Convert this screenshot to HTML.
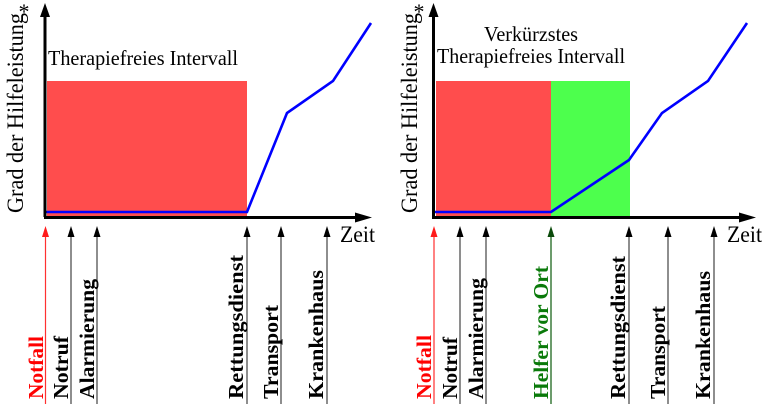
<!DOCTYPE html>
<html><head><meta charset="utf-8"><style>
html,body{margin:0;padding:0;background:#fff;}
svg{display:block;}
text{font-family:"Liberation Serif",serif;}
.t{font-size:21px;fill:#000;}
.y{font-size:23px;fill:#000;}
.b{font-size:21px;font-weight:bold;fill:#000;}
</style></head><body>
<svg width="767" height="408" viewBox="0 0 767 408" xmlns="http://www.w3.org/2000/svg">
<!-- LEFT PANEL -->
<rect x="47" y="81" width="200" height="136" fill="#ff4d4d"/>
<polyline points="46,212 247,212 287,113 333,81 371,23" fill="none" stroke="#0000ff" stroke-width="2.6"/>
<line x1="45" y1="217" x2="45" y2="14" stroke="#000" stroke-width="3"/>
<polygon points="40,17 45,3 50,17" fill="#000"/>
<line x1="44" y1="217.5" x2="358" y2="217.5" stroke="#000" stroke-width="3"/>
<polygon points="355,212.5 372,217.5 355,222.5" fill="#000"/>
<text class="t" x="48" y="65" textLength="190" lengthAdjust="spacingAndGlyphs">Therapiefreies Intervall</text>
<text class="y" transform="translate(23,213) rotate(-90)" x="0" y="0" textLength="200" lengthAdjust="spacingAndGlyphs">Grad der Hilfeleistung</text>
<text x="24" y="19" font-size="22" text-anchor="middle" style="font-family:'Liberation Serif',serif">*</text>
<text class="y" x="340" y="242" textLength="35" lengthAdjust="spacingAndGlyphs">Zeit</text>

<!-- left markers -->
<g stroke-width="1.2">
<line x1="45.5" y1="234" x2="45.5" y2="404" stroke="#ff3030"/>
<line x1="71" y1="234" x2="71" y2="404" stroke="#444"/>
<line x1="97" y1="234" x2="97" y2="404" stroke="#444"/>
<line x1="247" y1="234" x2="247" y2="404" stroke="#444"/>
<line x1="281" y1="234" x2="281" y2="404" stroke="#444"/>
<line x1="327" y1="234" x2="327" y2="404" stroke="#444"/>
</g>
<polygon points="42,237 45.5,226 49,237" fill="#ff1a1a"/>
<polygon points="67.5,237 71,226 74.5,237" fill="#000"/>
<polygon points="93.5,237 97,226 100.5,237" fill="#000"/>
<polygon points="243.5,237 247,226 250.5,237" fill="#000"/>
<polygon points="277.5,237 281,226 284.5,237" fill="#000"/>
<polygon points="323.5,237 327,226 330.5,237" fill="#000"/>

<text class="b" transform="translate(43,399) rotate(-90)" textLength="63" lengthAdjust="spacingAndGlyphs" style="fill:#f00">Notfall</text>
<text class="b" transform="translate(68,399) rotate(-90)" textLength="63" lengthAdjust="spacingAndGlyphs">Notruf</text>
<text class="b" transform="translate(94,399) rotate(-90)" textLength="120" lengthAdjust="spacingAndGlyphs">Alarmierung</text>
<text class="b" transform="translate(243,399) rotate(-90)" textLength="144" lengthAdjust="spacingAndGlyphs">Rettungsdienst</text>
<text class="b" transform="translate(278,399) rotate(-90)" textLength="94" lengthAdjust="spacingAndGlyphs">Transport</text>
<text class="b" transform="translate(323,399) rotate(-90)" textLength="129" lengthAdjust="spacingAndGlyphs">Krankenhaus</text>

<!-- RIGHT PANEL -->
<rect x="436" y="81" width="115" height="136" fill="#ff4d4d"/>
<rect x="551" y="81" width="79" height="136" fill="#4dff4d"/>
<polyline points="435,212 551,212 629,160 662,113 708,81 747,23" fill="none" stroke="#0000ff" stroke-width="2.6"/>
<line x1="433.5" y1="217" x2="433.5" y2="14" stroke="#000" stroke-width="3"/>
<polygon points="428.5,17 433.5,3 438.5,17" fill="#000"/>
<line x1="432" y1="217.5" x2="742" y2="217.5" stroke="#000" stroke-width="3"/>
<polygon points="739,212.5 756,217.5 739,222.5" fill="#000"/>
<text class="t" x="531" y="41" text-anchor="middle" textLength="94" lengthAdjust="spacingAndGlyphs">Verkürzstes</text>
<text class="t" x="437" y="63" textLength="188" lengthAdjust="spacingAndGlyphs">Therapiefreies Intervall</text>
<text class="y" transform="translate(417,213) rotate(-90)" x="0" y="0" textLength="200" lengthAdjust="spacingAndGlyphs">Grad der Hilfeleistung</text>
<text x="419" y="19" font-size="22" text-anchor="middle" style="font-family:'Liberation Serif',serif">*</text>
<text class="y" x="727" y="242" textLength="35" lengthAdjust="spacingAndGlyphs">Zeit</text>

<g stroke-width="1.2">
<line x1="434" y1="234" x2="434" y2="404" stroke="#ff3030"/>
<line x1="460" y1="234" x2="460" y2="404" stroke="#444"/>
<line x1="486" y1="234" x2="486" y2="404" stroke="#444"/>
<line x1="551" y1="234" x2="551" y2="404" stroke="#0a5a0a"/>
<line x1="629" y1="234" x2="629" y2="404" stroke="#444"/>
<line x1="668" y1="234" x2="668" y2="404" stroke="#444"/>
<line x1="714" y1="234" x2="714" y2="404" stroke="#444"/>
</g>
<polygon points="430.5,237 434,226 437.5,237" fill="#ff1a1a"/>
<polygon points="456.5,237 460,226 463.5,237" fill="#000"/>
<polygon points="482.5,237 486,226 489.5,237" fill="#000"/>
<polygon points="547.5,237 551,226 554.5,237" fill="#0a4a0a"/>
<polygon points="625.5,237 629,226 632.5,237" fill="#000"/>
<polygon points="664.5,237 668,226 671.5,237" fill="#000"/>
<polygon points="710.5,237 714,226 717.5,237" fill="#000"/>

<text class="b" transform="translate(431,399) rotate(-90)" textLength="64" lengthAdjust="spacingAndGlyphs" style="fill:#f00">Notfall</text>
<text class="b" transform="translate(457,399) rotate(-90)" textLength="62" lengthAdjust="spacingAndGlyphs">Notruf</text>
<text class="b" transform="translate(483,399) rotate(-90)" textLength="121" lengthAdjust="spacingAndGlyphs">Alarmierung</text>
<text class="b" transform="translate(548,399) rotate(-90)" textLength="133" lengthAdjust="spacingAndGlyphs" style="fill:#0a7a0a">Helfer vor Ort</text>
<text class="b" transform="translate(625,399) rotate(-90)" textLength="143" lengthAdjust="spacingAndGlyphs">Rettungsdienst</text>
<text class="b" transform="translate(665,399) rotate(-90)" textLength="93" lengthAdjust="spacingAndGlyphs">Transport</text>
<text class="b" transform="translate(710,399) rotate(-90)" textLength="128" lengthAdjust="spacingAndGlyphs">Krankenhaus</text>
</svg>
</body></html>
